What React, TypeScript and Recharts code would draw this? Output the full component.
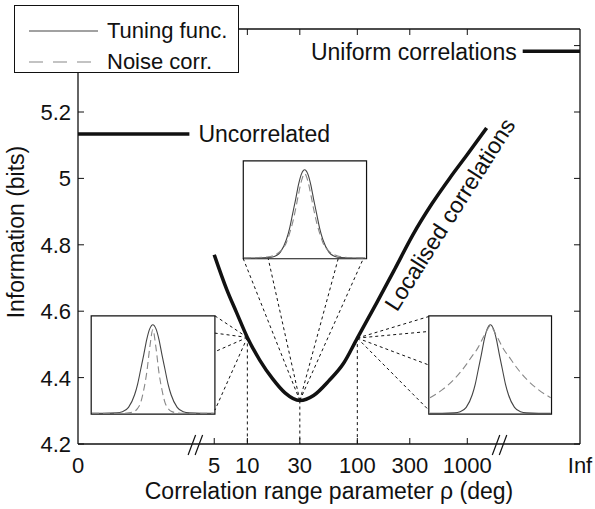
import React from 'react';
import { LineChart, Line, XAxis, YAxis, ReferenceLine, ReferenceArea, ReferenceDot, Legend } from 'recharts';

const W = 595;
const H = 509;
const FONT = '"Liberation Sans", Arial, Helvetica, sans-serif';
const INK = '#111';

// plot frame (px) and axis extents
const PLOT = { left: 78, top: 29, right: 580, bottom: 444 };
const U_MIN = -0.54; // axis position of rho = 0
const U_MAX = 4.025; // axis position of rho = Inf
const INFO_MIN = 4.2;
const INFO_MAX = 5.45;

// localised correlations curve
const rho = [5, 6.5, 8, 10, 13, 17, 22, 30, 40, 55, 75, 100, 150, 220, 320, 480, 700, 1000, 1500];
const info = [4.77, 4.665, 4.595, 4.521, 4.452, 4.396, 4.354, 4.331, 4.346, 4.39, 4.443, 4.519, 4.625, 4.728, 4.83, 4.925, 5.003, 5.072, 5.152];

// flat references
const uncorrelatedInfo = 5.134;
const uniformInfo = 5.383;

// x axis ticks
const xTickRho = [0, 5, 10, 30, 100, 300, 1000, Infinity];
const xTickLabels = ['0', '5', '10', '30', '100', '300', '1000', 'Inf'];
const yTicks = [4.2, 4.4, 4.6, 4.8, 5.0, 5.2, 5.4];
const yTickLabels = ['4.2', '4.4', '4.6', '4.8', '5', '5.2', '5.4'];

// inset tuning curves (angle normalised to -1..1)
const insetX = [-1, -0.8, -0.6, -0.5, -0.4, -0.3, -0.25, -0.2, -0.15, -0.1, -0.05, 0, 0.05, 0.1, 0.15, 0.2, 0.25, 0.3, 0.4, 0.5, 0.6, 0.8, 1];
const tuning = [0, 0, 0.004, 0.015, 0.06, 0.19, 0.3, 0.45, 0.6, 0.76, 0.87, 0.91, 0.87, 0.76, 0.6, 0.45, 0.3, 0.19, 0.06, 0.015, 0.004, 0, 0];
const noise10 = [0, 0, 0, 0, 0.004, 0.02, 0.05, 0.11, 0.24, 0.42, 0.68, 0.86, 0.68, 0.42, 0.24, 0.11, 0.05, 0.02, 0.004, 0, 0, 0, 0];
const noise30 = [0, 0.003, 0.012, 0.03, 0.07, 0.16, 0.25, 0.36, 0.5, 0.66, 0.8, 0.87, 0.8, 0.66, 0.5, 0.36, 0.25, 0.16, 0.07, 0.03, 0.012, 0.003, 0];
const noise100 = [0.16, 0.24, 0.35, 0.42, 0.5, 0.59, 0.63, 0.68, 0.74, 0.8, 0.86, 0.9, 0.86, 0.8, 0.74, 0.68, 0.63, 0.59, 0.5, 0.42, 0.35, 0.24, 0.16];

const legendItems = [
  { label: 'Tuning func.', color: '#444', dash: undefined as string | undefined },
  { label: 'Noise corr.', color: '#888', dash: '14 10' },
];

const posOf = (r: number) => (r === 0 ? U_MIN : r === Infinity ? U_MAX : Math.log10(r));
const breaks = [0.534, 3.3];
const tickPositions = xTickRho.map(posOf);
const xTicks = [...tickPositions, ...breaks].sort((a, b) => a - b);

const mainData = rho.map((r, i) => ({ u: Math.log10(r), info: info[i] }));
const infoAt = (r: number) => info[rho.indexOf(r)];

// inset boxes in axis units, with the connector endpoints
const insets = [
  {
    rho: 10,
    u: [-0.42, 0.705],
    v: [4.29, 4.586],
    noise: noise10,
    links: [[0.705, 4.586], [0.705, 4.534], [0.705, 4.478], [0.705, 4.302]],
  },
  {
    rho: 30,
    u: [0.963, 2.084],
    v: [4.758, 5.053],
    noise: noise30,
    links: [[0.963, 4.758], [1.19, 4.758], [1.826, 4.758], [2.054, 4.758]],
  },
  {
    rho: 100,
    u: [2.65, 3.766],
    v: [4.29, 4.586],
    noise: noise100,
    links: [[2.65, 4.584], [2.65, 4.539], [2.65, 4.438], [2.65, 4.302]],
  },
];

const toPx = (u: number) => PLOT.left + ((u - U_MIN) / (U_MAX - U_MIN)) * (PLOT.right - PLOT.left);
const toPy = (v: number) => PLOT.bottom - ((v - INFO_MIN) / (INFO_MAX - INFO_MIN)) * (PLOT.bottom - PLOT.top);

const isBreak = (u: number) => breaks.some(b => Math.abs(b - u) < 1e-6);
const labelIndex = (u: number) => tickPositions.findIndex(p => Math.abs(p - u) < 1e-6);

const BottomTick = (props: any) => {
  const { x, y, payload } = props;
  const u = payload.value;
  if (isBreak(u)) {
    return (
      <g stroke={INK} strokeWidth={1.2}>
        <line x1={x - 8} y1={y + 11} x2={x - 0.5} y2={y - 9} />
        <line x1={x - 1} y1={y + 11} x2={x + 6.5} y2={y - 9} />
      </g>
    );
  }
  const i = labelIndex(u);
  const edge = i === 0 || i === xTickLabels.length - 1;
  return (
    <g>
      {!edge && <line x1={x} y1={y} x2={x} y2={y - 6} stroke={INK} strokeWidth={1} />}
      <text x={x} y={y + 29} textAnchor="middle" fontSize={22} fill={INK} fontFamily={FONT}>
        {xTickLabels[i]}
      </text>
    </g>
  );
};

const TopTick = (props: any) => {
  const { x, y, payload } = props;
  const i = labelIndex(payload.value);
  if (i <= 0 || i === xTickLabels.length - 1) return <g />;
  return <line x1={x} y1={y} x2={x} y2={y + 6} stroke={INK} strokeWidth={1} />;
};

const LeftTick = (props: any) => {
  const { x, y, payload } = props;
  const i = yTicks.findIndex(t => Math.abs(t - payload.value) < 1e-6);
  return (
    <g>
      <line x1={x} y1={y} x2={x + 6} y2={y} stroke={INK} strokeWidth={1} />
      <text x={x - 7} y={y} dy="0.36em" textAnchor="end" fontSize={22} fill={INK} fontFamily={FONT}>
        {yTickLabels[i]}
      </text>
    </g>
  );
};

const RightTick = (props: any) => {
  const { x, y } = props;
  return <line x1={x} y1={y} x2={x - 6} y2={y} stroke={INK} strokeWidth={1} />;
};

const LegendBox = () => (
  <div
    style={{
      width: 225,
      height: 68,
      boxSizing: 'border-box',
      border: `1.3px solid ${INK}`,
      background: '#fff',
      fontFamily: FONT,
      fontSize: 22,
      color: INK,
      paddingTop: 9,
    }}
  >
    {legendItems.map(item => (
      <div key={item.label} style={{ display: 'flex', alignItems: 'center', height: 31 }}>
        <svg width={92} height={10}>
          <line x1={14} y1={5} x2={83} y2={5} stroke={item.color} strokeWidth={1.2} strokeDasharray={item.dash} />
        </svg>
        <span>{item.label}</span>
      </div>
    ))}
  </div>
);

const Inset = ({ box }: { box: (typeof insets)[number] }) => {
  const left = toPx(box.u[0]);
  const top = toPy(box.v[1]);
  const width = toPx(box.u[1]) - left;
  const height = toPy(box.v[0]) - top;
  const data = insetX.map((x, i) => ({ x, tuning: tuning[i], noise: box.noise[i] }));
  return (
    <div style={{ position: 'absolute', left, top, width, height }}>
      <LineChart width={width} height={height} data={data} margin={{ top: 0, right: 1, bottom: 1, left: 1 }}>
        <XAxis dataKey="x" type="number" domain={[-1, 1]} hide />
        <YAxis type="number" domain={[0, 1]} hide />
        <Line dataKey="tuning" type="monotone" stroke="#444" strokeWidth={1.1} dot={false} isAnimationActive={false} />
        <Line dataKey="noise" type="monotone" stroke="#888" strokeWidth={1.1} strokeDasharray="7 4" dot={false} isAnimationActive={false} />
      </LineChart>
    </div>
  );
};

export default function App() {
  const uncorrelatedData = [
    { u: U_MIN, info: uncorrelatedInfo },
    { u: 0.473, info: uncorrelatedInfo },
  ];
  const uniformData = [
    { u: 3.504, info: uniformInfo },
    { u: U_MAX, info: uniformInfo },
  ];

  return (
    <div style={{ position: 'absolute', left: 0, top: 0, width: W, height: H, background: '#fff' }}>
      <LineChart
        width={W}
        height={H}
        margin={{ top: PLOT.top - 1, right: W - PLOT.right - 1, bottom: H - PLOT.bottom - 40, left: PLOT.left - 60 }}
        style={{ fontFamily: FONT }}
      >
        <XAxis
          dataKey="u"
          type="number"
          domain={[U_MIN, U_MAX]}
          ticks={xTicks}
          interval={0}
          height={40}
          tickSize={0}
          tickMargin={0}
          tickLine={false}
          tick={BottomTick}
          axisLine={{ stroke: INK, strokeWidth: 1.3 }}
          allowDataOverflow
          label={{
            content: () => (
              <text x={(PLOT.left + PLOT.right) / 2} y={499} textAnchor="middle" fontSize={23} fill={INK} fontFamily={FONT}>
                Correlation range parameter ρ (deg)
              </text>
            ),
          }}
        />
        <XAxis
          xAxisId="top"
          orientation="top"
          dataKey="u"
          type="number"
          domain={[U_MIN, U_MAX]}
          ticks={xTicks}
          interval={0}
          height={1}
          tickSize={0}
          tickMargin={0}
          tickLine={false}
          tick={TopTick}
          axisLine={{ stroke: INK, strokeWidth: 1.3 }}
          allowDataOverflow
        />
        <YAxis
          type="number"
          domain={[INFO_MIN, INFO_MAX]}
          ticks={yTicks}
          interval={0}
          width={60}
          tickSize={0}
          tickMargin={0}
          tickLine={false}
          tick={LeftTick}
          axisLine={{ stroke: INK, strokeWidth: 1.3 }}
          allowDataOverflow
          label={{
            content: () => (
              <text
                x={24}
                y={232}
                transform="rotate(-90, 24, 232)"
                textAnchor="middle"
                fontSize={23}
                fill={INK}
                fontFamily={FONT}
              >
                Information (bits)
              </text>
            ),
          }}
        />
        <YAxis
          yAxisId="right"
          orientation="right"
          type="number"
          domain={[INFO_MIN, INFO_MAX]}
          ticks={yTicks}
          interval={0}
          width={1}
          tickSize={0}
          tickMargin={0}
          tickLine={false}
          tick={RightTick}
          axisLine={{ stroke: INK, strokeWidth: 1.3 }}
          allowDataOverflow
        />

        {insets.map(box => (
          <ReferenceArea
            key={`box-${box.rho}`}
            x1={box.u[0]}
            x2={box.u[1]}
            y1={box.v[0]}
            y2={box.v[1]}
            fill="#fff"
            fillOpacity={1}
            stroke={INK}
            strokeWidth={1.2}
            ifOverflow="visible"
          />
        ))}

        {insets.map(box => {
          const u = Math.log10(box.rho);
          const v = infoAt(box.rho);
          return [
            <ReferenceLine
              key={`drop-${box.rho}`}
              segment={[{ x: u, y: v }, { x: u, y: INFO_MIN }]}
              stroke={INK}
              strokeWidth={1}
              strokeDasharray="3 3"
              ifOverflow="visible"
            />,
            ...box.links.map((p, j) => (
              <ReferenceLine
                key={`link-${box.rho}-${j}`}
                segment={[{ x: u, y: v }, { x: p[0], y: p[1] }]}
                stroke={INK}
                strokeWidth={1}
                strokeDasharray="3 3"
                ifOverflow="visible"
              />
            )),
          ];
        })}

        <Line data={uncorrelatedData} dataKey="info" stroke={INK} strokeWidth={3.5} dot={false} isAnimationActive={false} />
        <Line data={uniformData} dataKey="info" stroke={INK} strokeWidth={3.5} dot={false} isAnimationActive={false} />
        <Line data={mainData} dataKey="info" type="monotone" stroke={INK} strokeWidth={3.5} dot={false} isAnimationActive={false} />
        {/* keeps the mirrored top/right axes attached to a series */}
        <Line
          xAxisId="top"
          yAxisId="right"
          data={uniformData}
          dataKey="info"
          stroke="none"
          dot={false}
          legendType="none"
          isAnimationActive={false}
        />

        <ReferenceDot
          x={0.473}
          y={uncorrelatedInfo}
          r={0}
          fill="none"
          stroke="none"
          label={{
            content: (p: any) => (
              <text x={p.viewBox.x + 9} y={p.viewBox.y} dy="0.36em" fontSize={23} fill={INK} fontFamily={FONT}>
                Uncorrelated
              </text>
            ),
          }}
        />
        <ReferenceDot
          x={3.504}
          y={uniformInfo}
          r={0}
          fill="none"
          stroke="none"
          label={{
            content: (p: any) => (
              <text x={p.viewBox.x - 6} y={p.viewBox.y} dy="0.36em" textAnchor="end" fontSize={23} fill={INK} fontFamily={FONT}>
                Uniform correlations
              </text>
            ),
          }}
        />
        <ReferenceDot
          x={2.36}
          y={4.596}
          r={0}
          fill="none"
          stroke="none"
          label={{
            content: (p: any) => (
              <text
                x={p.viewBox.x}
                y={p.viewBox.y}
                transform={`rotate(-57.6, ${p.viewBox.x}, ${p.viewBox.y})`}
                fontSize={23}
                fill={INK}
                fontFamily={FONT}
              >
                Localised correlations
              </text>
            ),
          }}
        />

        <Legend
          layout="horizontal"
          verticalAlign="middle"
          align="center"
          content={() => <LegendBox />}
          wrapperStyle={{ position: 'absolute', left: 14, top: 5, width: 225, height: 68 }}
        />
      </LineChart>
      {insets.map(box => (
        <Inset key={`inset-${box.rho}`} box={box} />
      ))}
    </div>
  );
}
